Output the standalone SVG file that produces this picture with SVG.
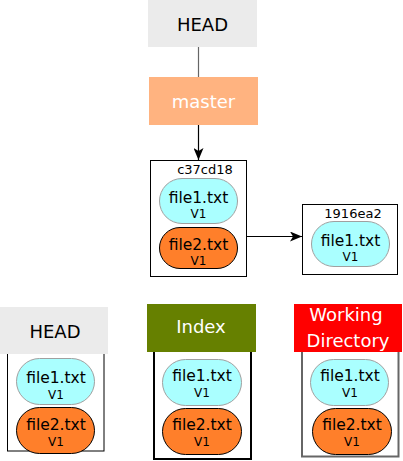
<svg xmlns="http://www.w3.org/2000/svg" width="403" height="461" viewBox="0 0 403 461">
<defs>
<marker id="arr" viewBox="0 0 12 10" refX="12" refY="5" markerWidth="12" markerHeight="10" markerUnits="userSpaceOnUse" orient="auto">
<path d="M0,0 L12,5 L0,10 L3,5 Z" fill="#000"/>
</marker>
</defs>
<style>
text{font-family:"DejaVu Sans","Liberation Sans",sans-serif;text-anchor:middle}
.lbl{font-size:18px}
.w{fill:#fff}
.k{fill:#000}
.f{font-size:15.5px}
.v{font-size:12px}
.h{font-size:13px}
.p1{fill:#aaffff;stroke:#a0a0a0;stroke-width:1}
.p2{fill:#ff7f2a;stroke:#000;stroke-width:1}
.box{fill:#fff;stroke:#000;stroke-width:1}
.conn{stroke:#000;stroke-width:1.2;fill:none}
</style>
<g id="head-top">
<rect x="148" y="0" width="109" height="47" fill="#ebebeb"/>
<text class="lbl k" x="202.5" y="31">HEAD</text>
</g>
<g id="master">
<rect x="149" y="77" width="109" height="48" fill="#ffb380"/>
<text class="lbl w" x="203.5" y="108">master</text>
</g>
<g id="commit-c37cd18">
<rect class="box" x="150.5" y="160.5" width="96" height="116"/>
<text class="h k" x="205" y="174">c37cd18</text>
<rect class="p1" x="159.5" y="178.5" width="78" height="45" rx="22.5"/>
<text class="f k" x="198.5" y="203">file1.txt</text>
<text class="v k" x="198.5" y="218">V1</text>
<rect class="p2" x="159.5" y="227.5" width="78" height="41" rx="20.5"/>
<text class="f k" x="198.5" y="250">file2.txt</text>
<text class="v k" x="198.5" y="265">V1</text>
</g>
<g id="commit-1916ea2">
<rect class="box" x="302.5" y="204.5" width="95" height="70"/>
<text class="h k" x="353" y="218">1916ea2</text>
<rect class="p1" x="311.5" y="221.5" width="78" height="45" rx="22.5"/>
<text class="f k" x="350.5" y="246">file1.txt</text>
<text class="v k" x="350.5" y="261">V1</text>
</g>
<g id="head-tree">
<rect class="box" x="7.5" y="340.5" width="96.5" height="110.5"/>
<rect x="0" y="307" width="108" height="47" fill="#ebebeb"/>
<text class="lbl k" x="55" y="338">HEAD</text>
<rect class="p1" x="16.5" y="358.5" width="78" height="46" rx="23"/>
<text class="f k" x="56" y="383">file1.txt</text>
<text class="v k" x="56" y="399">V1</text>
<rect class="p2" x="16.5" y="407.5" width="78" height="46" rx="23"/>
<text class="f k" x="56" y="430">file2.txt</text>
<text class="v k" x="56" y="446">V1</text>
</g>
<g id="index">
<rect x="154" y="340" width="97" height="119" fill="#fff" stroke="#000" stroke-width="2"/>
<rect x="147" y="304" width="109" height="48" fill="#668000"/>
<text class="lbl w" x="201" y="333">Index</text>
<rect class="p1" x="162.5" y="359.5" width="79" height="46" rx="23"/>
<text class="f k" x="202" y="381">file1.txt</text>
<text class="v k" x="202" y="397">V1</text>
<rect class="p2" x="162.5" y="408.5" width="79" height="46" rx="23"/>
<text class="f k" x="202" y="430">file2.txt</text>
<text class="v k" x="202" y="446">V1</text>
</g>
<g id="working-directory">
<rect x="302" y="340" width="96.5" height="116.5" fill="#fff" stroke="#666" stroke-width="2"/>
<rect x="294" y="304" width="108" height="48" fill="#ff0000"/>
<text class="lbl w" x="346" y="321">Working</text>
<text class="lbl w" x="348" y="347">Directory</text>
<rect class="p1" x="310.5" y="359.5" width="78" height="46" rx="23"/>
<text class="f k" x="350" y="381">file1.txt</text>
<text class="v k" x="350" y="397">V1</text>
<rect class="p2" x="312.5" y="408.5" width="79" height="46" rx="23"/>
<text class="f k" x="352" y="430">file2.txt</text>
<text class="v k" x="352" y="446">V1</text>
</g>
<g id="connectors">
<line x1="198.5" y1="47" x2="198.5" y2="77" stroke="#666" stroke-width="1.2"/>
<line class="conn" x1="198.5" y1="125" x2="198.5" y2="160" marker-end="url(#arr)"/>
<line class="conn" x1="247" y1="236.5" x2="302" y2="236.5" marker-end="url(#arr)"/>
</g>
</svg>
